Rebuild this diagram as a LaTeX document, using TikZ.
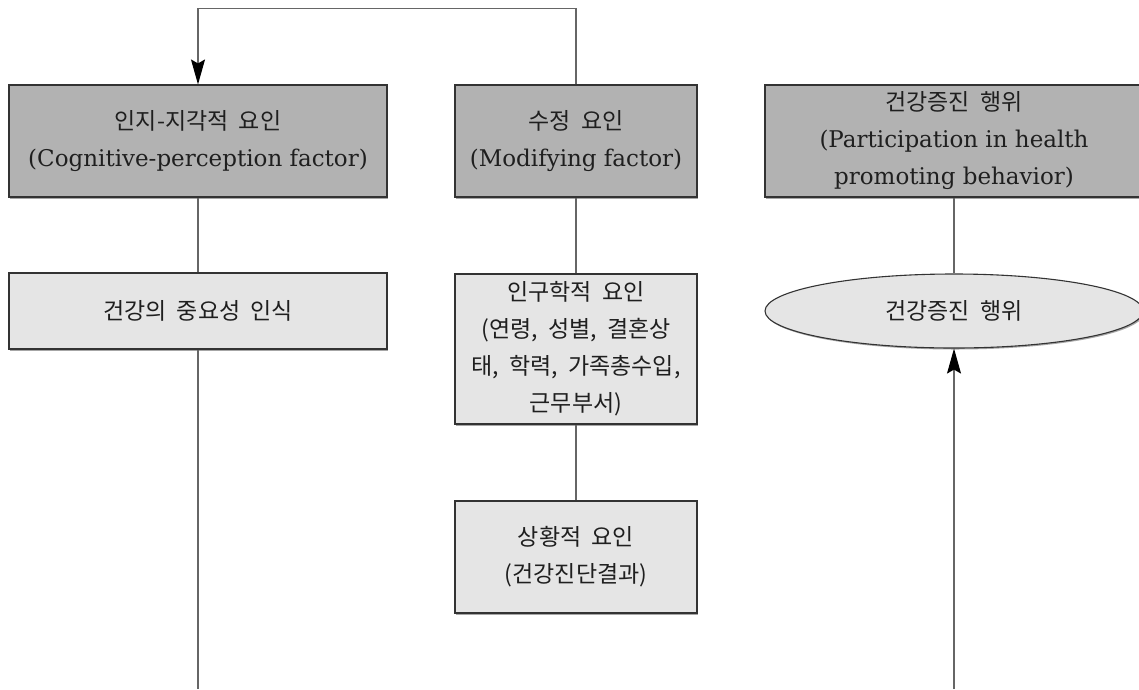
\documentclass[tikz,border=0pt]{standalone}
\usepackage{fontspec}
\setmainfont{DejaVu Serif}
\newfontfamily\kr{Noto Sans CJK KR}[WordSpace=2]
\usetikzlibrary{arrows.meta,shapes.geometric,shadows}
\newcommand\KR[1]{{\kr\fontsize{23}{37}\selectfont #1}}
\tikzset{
  boxbase/.style={draw=black!80, line width=1.1pt, inner sep=0pt, align=center,
    text=black!88, font=\fontsize{23}{37}\selectfont,
    general shadow={shadow xshift=1.2pt, shadow yshift=-1.5pt, fill=black!35}},
  darkbox/.style={boxbase, fill=black!30, minimum height=112pt},
  lightbox/.style={boxbase, fill=black!10},
  oval/.style={boxbase, ellipse, fill=black!10, minimum width=378pt, minimum height=74pt},
  conn/.style={draw=black!60, line width=1.1pt},
  tip/.style={-{Stealth[length=25pt,width=14pt,inset=4pt,fill=black,color=black]}}
}
\begin{document}
\begin{tikzpicture}[x=1pt,y=-1pt]
\useasboundingbox[fill=white] (0,0) rectangle (1139,689);
% nodes
\node[darkbox, minimum width=378pt] (c) at (198,141)
  {\KR{인지-지각적 요인}\\(Cognitive-perception factor)};
\node[darkbox, minimum width=242pt] (m) at (576,141)
  {\KR{수정 요인}\\(Modifying factor)};
\node[darkbox, minimum width=378pt] (p) at (954,141)
  {\KR{건강증진 행위}\\(Participation in health\\promoting behavior)};
\node[lightbox, minimum width=378pt, minimum height=76pt] (h) at (198,311)
  {\KR{건강의 중요성 인식}};
\node[lightbox, minimum width=242pt, minimum height=150pt] (d) at (576,349)
  {\KR{인구학적 요인}\\\KR{(연령, 성별, 결혼상}\\\KR{태, 학력, 가족총수입,}\\\KR{근무부서)}};
\node[lightbox, minimum width=242pt, minimum height=112pt] (s) at (576,557)
  {\KR{상황적 요인}\\\KR{(건강진단결과)}};
\node[oval] (b) at (954,311) {\KR{건강증진 행위}};
\coordinate (lb) at (198,689);
\coordinate (rb) at (954,689);
% connectors
\draw[conn,tip] (m.north) -- ++(0,-76) -| (c.north);
\draw[conn] (c.south) -- (h.north);
\draw[conn] (h.south) -- (lb);
\draw[conn] (m.south) -- (d.north);
\draw[conn] (d.south) -- (s.north);
\draw[conn] (p.south) -- (b.north);
\draw[conn,tip] (rb) -- (b.south);
\end{tikzpicture}
\end{document}
